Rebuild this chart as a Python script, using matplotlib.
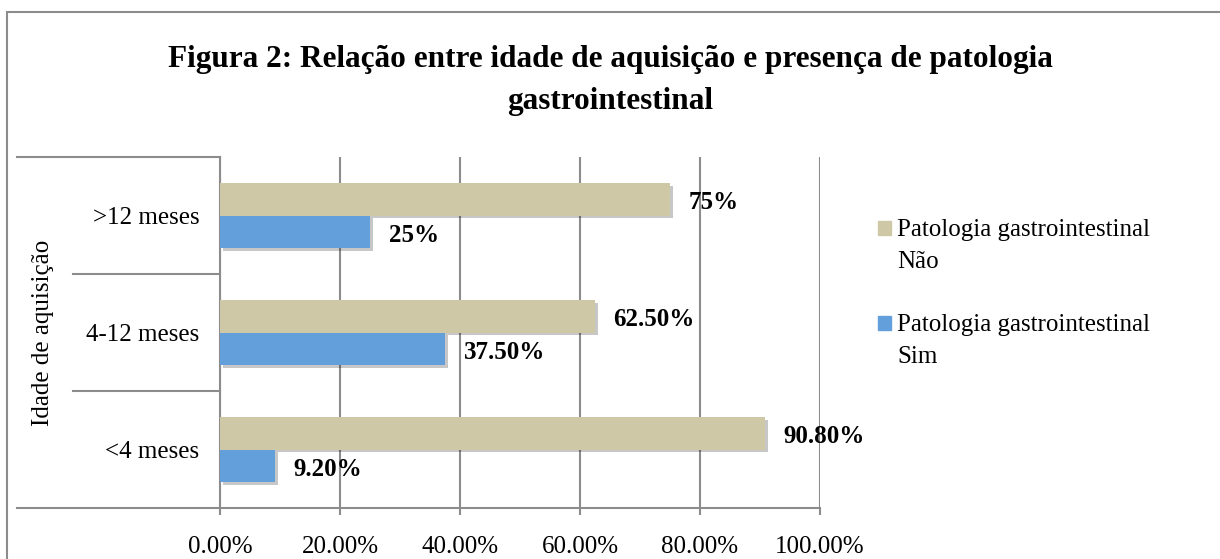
import matplotlib
matplotlib.use("Agg")
import matplotlib.pyplot as plt
import matplotlib.patheffects as pe
from matplotlib.patches import Rectangle
import numpy as np

# Daten
categorias = ['<4 meses', '4-12 meses', '>12 meses']
sim = [9.2, 37.5, 25.0]
nao = [90.8, 62.5, 75.0]
rotulos_sim = ['9.20%', '37.50%', '25%']
rotulos_nao = ['90.80%', '62.50%', '75%']
xticks = [0, 20, 40, 60, 80, 100]
xtick_labels = ['0.00%', '20.00%', '40.00%', '60.00%', '80.00%', '100.00%']
legenda = ['Patologia gastrointestinal\nNão', 'Patologia gastrointestinal\nSim']

plt.rcParams['font.family'] = ['Liberation Serif', 'DejaVu Serif']

cor_nao = '#CEC8A7'
cor_sim = '#63A0DB'
cor_linha = '#8c8c8c'

fig = plt.figure(figsize=(12.2, 5.59), dpi=100)
ax = fig.add_axes((220/1220, 1-508/559, 600/1220, 351/559))

# Rahmen um die ganze Grafik
fig.patches.append(Rectangle((7/1220, -0.1), 1.2, 1-12/559+0.1, transform=fig.transFigure,
                             fill=False, edgecolor=cor_linha, linewidth=1.5))

y = np.arange(len(categorias))
h = 0.28
sombra = [pe.SimplePatchShadow(offset=(2, -2), alpha=0.22, shadow_rgbFace='k'), pe.Normal()]
b_nao = ax.barh(y + h/2, nao, h, color=cor_nao, zorder=3)
b_sim = ax.barh(y - h/2, sim, h, color=cor_sim, zorder=3)
for b in list(b_nao) + list(b_sim):
    b.set_path_effects(sombra)

for yi, v, t in zip(y, nao, rotulos_nao):
    ax.text(v + 3.1, yi + h/2 - 0.03, t, va='center', ha='left', fontsize=18, fontweight='bold', zorder=4)
for yi, v, t in zip(y, sim, rotulos_sim):
    ax.text(v + 3.1, yi - h/2 - 0.03, t, va='center', ha='left', fontsize=18, fontweight='bold', zorder=4)

ax.set_xlim(0, 100)
ax.set_ylim(-0.5, 2.5)
ax.set_xticks(xticks)
ax.set_xticklabels(xtick_labels, fontsize=18)
ax.set_yticks(y)
ax.set_yticklabels(categorias, fontsize=18)
ax.tick_params(axis='y', length=0, pad=15)
ax.tick_params(axis='x', length=5, color=cor_linha, width=1.5, pad=15)

for s in ['top', 'right', 'bottom']:
    ax.spines[s].set_visible(False)
ax.spines['left'].set_color(cor_linha)
ax.spines['left'].set_linewidth(1.5)
ax.grid(axis='x', color=cor_linha, linewidth=1.5, zorder=0)

# Trennlinien der Kategorien links (oben/unten länger)
trans = ax.get_yaxis_transform()
for yy in [-0.5, 0.5, 1.5, 2.5]:
    if yy in (-0.5, 2.5):
        x0 = (17 - 220) / 600
    else:
        x0 = (73 - 220) / 600
    x1 = 1.0 if yy == -0.5 else 0.0
    ax.plot([x0, x1], [yy, yy], transform=trans, color=cor_linha, linewidth=1.5, clip_on=False, zorder=2)

ax.set_ylabel('Idade de aquisição', fontsize=18, va='center')
ax.yaxis.set_label_coords(-0.295, 0.5)

fig.suptitle('Figura 2: Relação entre idade de aquisição e presença de patologia\ngastrointestinal',
             x=0.5, y=1-45/559, fontsize=22.5, fontweight='bold', linespacing=1.6, va='top')

# Legende (Marker an der ersten Zeile ausgerichtet)
for i, (cor, txt) in enumerate(zip([cor_nao, cor_sim], legenda)):
    yc = 1 - (228 + 95 * i) / 559
    fig.patches.append(Rectangle((878/1220, yc - 7/559), 13/1220, 14/559,
                                 transform=fig.transFigure, color=cor))
    fig.text(897/1220, yc + 9/559, txt, fontsize=18, va='top', ha='left', linespacing=1.6)

fig.savefig('out.png', dpi=100)
